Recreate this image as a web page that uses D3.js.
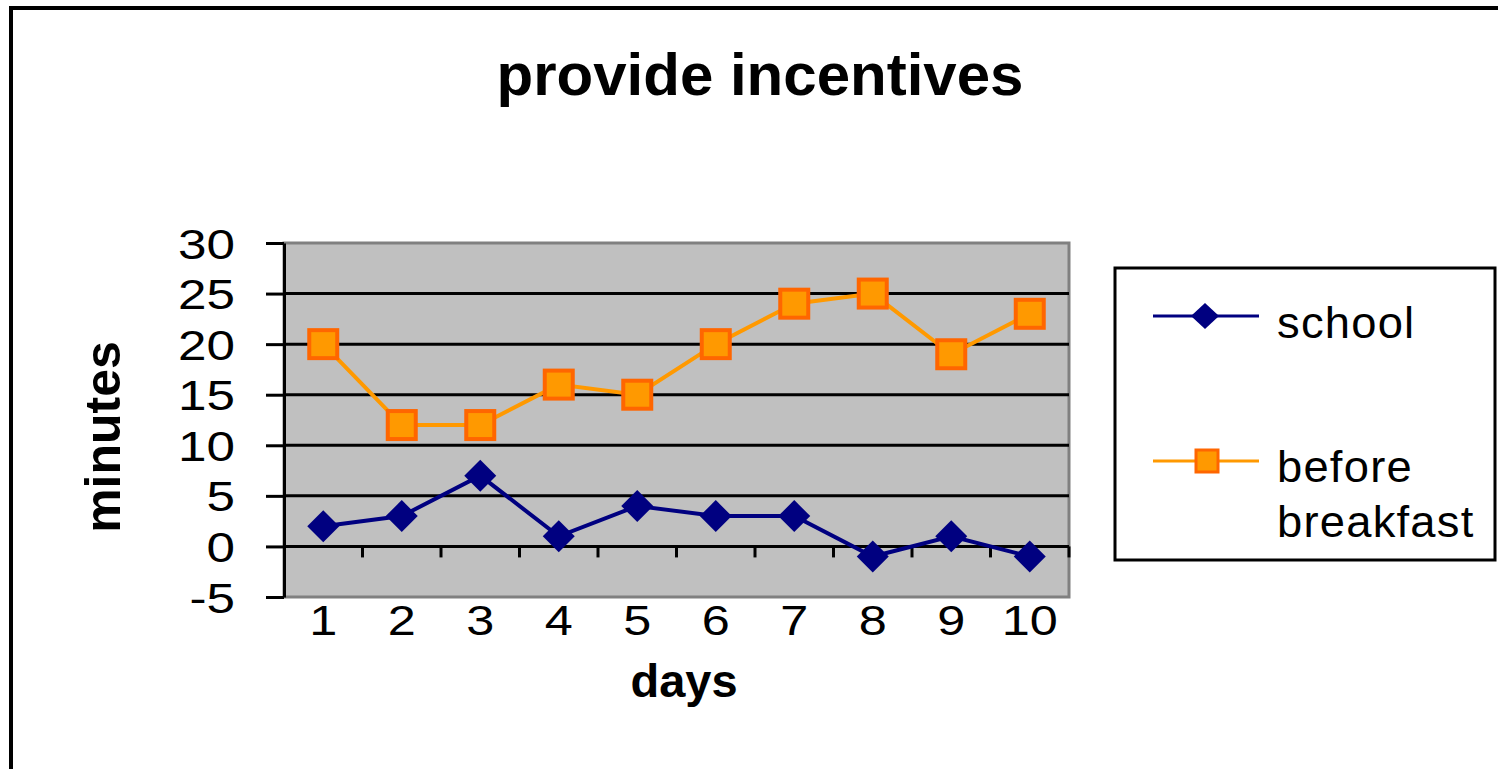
<!DOCTYPE html>
<html>
<head>
<meta charset="utf-8">
<script src="https://cdn.jsdelivr.net/npm/d3@7"></script>
<style>
  html, body { margin: 0; padding: 0; background: #fff; overflow: hidden; }
  svg { display: block; font-family: Arial, "Liberation Sans", sans-serif; }
</style>
</head>
<body>
<svg id="chart" width="1498" height="769"></svg>
<script>
// Minutes per day for the two series
const days = ["1", "2", "3", "4", "5", "6", "7", "8", "9", "10"];
const school = [2, 3, 7, 1, 4, 3, 3, -1, 1, -1];
const beforeBreakfast = [20, 12, 12, 16, 15, 20, 24, 25, 19, 23];
const yTicks = [-5, 0, 5, 10, 15, 20, 25, 30];
const seriesNames = ["school", "before breakfast"];

const svg = d3.select("#chart");

// Outer chart frame (runs off the right and bottom edges)
svg.append("rect")
  .attr("x", 11).attr("y", 8)
  .attr("width", 1520).attr("height", 800)
  .attr("fill", "#fff").attr("stroke", "#000").attr("stroke-width", 4);

const plot = { left: 284, right: 1069, top: 243, bottom: 597 };

const x = d3.scaleBand().domain(days).range([plot.left, plot.right]);
const y = d3.scaleLinear().domain([-5, 30]).range([plot.bottom, plot.top]);

// Plot area background
svg.append("rect")
  .attr("x", plot.left).attr("y", plot.top)
  .attr("width", plot.right - plot.left).attr("height", plot.bottom - plot.top)
  .attr("fill", "#c0c0c0").attr("stroke", "#808080").attr("stroke-width", 3);

// Horizontal gridlines
svg.append("g")
  .selectAll("line")
  .data(yTicks.filter(d => d > -5 && d < 30))
  .join("line")
  .attr("x1", plot.left).attr("x2", plot.right)
  .attr("y1", d => y(d)).attr("y2", d => y(d))
  .attr("stroke", "#000").attr("stroke-width", 3);

// Y axis
const yAxis = svg.append("g")
  .attr("transform", `translate(${plot.left},0)`)
  .call(d3.axisLeft(y).tickValues(yTicks).tickFormat(d => String(d))
    .tickSize(18).tickPadding(0).tickSizeOuter(0));
yAxis.select(".domain").attr("stroke", "#000").attr("stroke-width", 3);
yAxis.selectAll(".tick line").attr("stroke", "#000").attr("stroke-width", 3);
yAxis.selectAll(".tick text")
  .attr("x", 0).attr("dy", null).attr("y", 15)
  .attr("font-size", 42).attr("fill", "#000")
  .attr("text-anchor", "end")
  .attr("transform", "translate(-49,0) scale(1.22,1)");

// X axis at zero with ticks between categories
const xAxisG = svg.append("g").attr("transform", `translate(0,${y(0)})`);
xAxisG.append("line")
  .attr("x1", plot.left).attr("x2", plot.right)
  .attr("stroke", "#000").attr("stroke-width", 3);
xAxisG.selectAll("line.tk")
  .data(days)
  .join("line").attr("class", "tk")
  .attr("x1", d => x(d) + x.bandwidth()).attr("x2", d => x(d) + x.bandwidth())
  .attr("y1", 0).attr("y2", 11)
  .attr("stroke", "#000").attr("stroke-width", 3);

// Category labels below the plot
svg.append("g")
  .selectAll("text")
  .data(days)
  .join("text")
  .attr("transform", d => `translate(${x(d) + x.bandwidth() / 2},635) scale(1.2,1)`)
  .attr("text-anchor", "middle")
  .attr("font-size", 42).attr("fill", "#000")
  .text(d => d);

// Series lines and markers
const line = d3.line()
  .x((d, i) => x(days[i]) + x.bandwidth() / 2)
  .y(d => y(d));

svg.append("path").datum(beforeBreakfast)
  .attr("d", line).attr("fill", "none")
  .attr("stroke", "#ff9900").attr("stroke-width", 4);

svg.append("path").datum(school)
  .attr("d", line).attr("fill", "none")
  .attr("stroke", "#000080").attr("stroke-width", 4);

svg.append("g").selectAll("rect")
  .data(beforeBreakfast)
  .join("rect")
  .attr("x", (d, i) => x(days[i]) + x.bandwidth() / 2 - 14)
  .attr("y", d => y(d) - 14)
  .attr("width", 28).attr("height", 28)
  .attr("fill", "#ff9900").attr("stroke", "#ff6600").attr("stroke-width", 4);

svg.append("g").selectAll("path")
  .data(school)
  .join("path")
  .attr("d", "M0,-16L16,0L0,16L-16,0Z")
  .attr("transform", (d, i) => `translate(${x(days[i]) + x.bandwidth() / 2},${y(d)})`)
  .attr("fill", "#000080");

// Title and axis titles
svg.append("text")
  .attr("x", 760).attr("y", 95)
  .attr("text-anchor", "middle")
  .attr("font-size", 60).attr("font-weight", "bold")
  .text("provide incentives");

svg.append("text")
  .attr("x", 684).attr("y", 697)
  .attr("text-anchor", "middle")
  .attr("font-size", 47).attr("font-weight", "bold")
  .text("days");

svg.append("text")
  .attr("transform", "translate(120,437) rotate(-90)")
  .attr("text-anchor", "middle")
  .attr("font-size", 50).attr("font-weight", "bold")
  .text("minutes");

// Legend
const legend = svg.append("g");
legend.append("rect")
  .attr("x", 1115).attr("y", 268)
  .attr("width", 380).attr("height", 292)
  .attr("fill", "#fff").attr("stroke", "#000").attr("stroke-width", 3);

const legendRows = [
  { name: seriesNames[0], y: 316, color: "#000080", lines: ["school"], base: 338 },
  { name: seriesNames[1], y: 461, color: "#ff9900", lines: ["before", "breakfast"], base: 482 }
];

legendRows.forEach((r, k) => {
  legend.append("line")
    .attr("x1", 1153).attr("x2", 1259)
    .attr("y1", r.y).attr("y2", r.y)
    .attr("stroke", r.color).attr("stroke-width", 3);
  if (k === 0) {
    legend.append("path")
      .attr("d", "M0,-13L14,0L0,13L-14,0Z")
      .attr("transform", `translate(1205,${r.y})`)
      .attr("fill", "#000080");
  } else {
    legend.append("rect")
      .attr("x", 1196).attr("y", r.y - 11)
      .attr("width", 22).attr("height", 22)
      .attr("fill", "#ff9900").attr("stroke", "#ff6600").attr("stroke-width", 3);
  }
  r.lines.forEach((t, j) => {
    legend.append("text")
      .attr("transform", `translate(1277,${r.base + j * 55}) scale(1.03,1)`)
      .attr("font-size", 44).attr("letter-spacing", 1.2)
      .attr("fill", "#000")
      .text(t);
  });
});
</script>
</body>
</html>
